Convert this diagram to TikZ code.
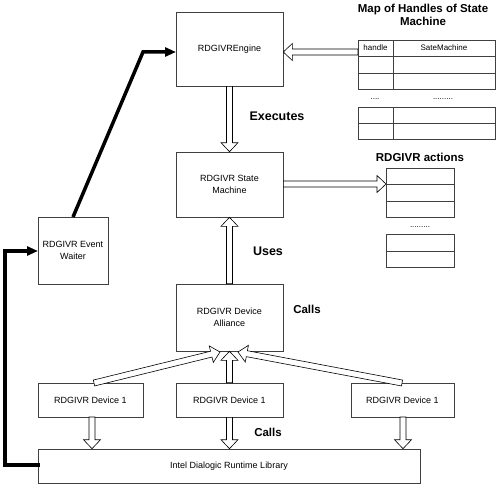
\documentclass[tikz,border=0pt]{standalone}
\usepackage{fontspec}
\setmainfont{Liberation Sans}
\usetikzlibrary{arrows.meta,calc}
\begin{document}
\begin{tikzpicture}[x=1pt,y=-1pt,
  box/.style={draw=black!75, line width=0.6pt, align=center, inner sep=0pt, font=\fontsize{9}{11.5}\selectfont},
  lbl/.style={font=\fontsize{11.5}{13}\selectfont\bfseries, inner sep=0pt},
  biglbl/.style={lbl, font=\fontsize{12.5}{14}\selectfont\bfseries},
  cell/.style={font=\fontsize{8}{10}\selectfont, inner sep=0pt},
  grid/.style={draw=black!75, line width=0.6pt},
  hollow/.style={draw=black, line width=0.6pt, fill=white, line join=miter,
    to path={let \p1=(\tikztostart), \p2=(\tikztotarget), \p3=($(\p2)!9pt!(\p1)$) in
      ($(\p1)!3pt!90:(\p2)$) -- ($(\p3)!3pt!90:(\p2)$) -- ($(\p3)!8.5pt!90:(\p2)$) -- (\p2)
      -- ($(\p3)!8.5pt!-90:(\p2)$) -- ($(\p3)!3pt!-90:(\p2)$) -- ($(\p1)!3pt!-90:(\p2)$) -- cycle}},
  thick/.style={line width=3.5pt, -{Triangle[length=11pt, width=9pt]}},
]
\useasboundingbox (0,0) rectangle (500,487);
% boxes
\node[box, minimum width=107pt, minimum height=74pt] (eng) at (229.5,49) {RDGIVREngine};
\node[box, minimum width=107pt, minimum height=65pt] (sm) at (229.5,184.5) {RDGIVR State\\Machine};
\node[box, minimum width=70pt, minimum height=67pt] (ew) at (73,250.5) {RDGIVR Event\\Waiter};
\node[box, minimum width=107pt, minimum height=67pt] (da) at (229.5,317.5) {RDGIVR Device\\Alliance};
\node[box, minimum width=105pt, minimum height=34pt] (d1) at (90.5,400) {RDGIVR Device 1};
\node[box, minimum width=107pt, minimum height=34pt] (d2) at (229.5,400) {RDGIVR Device 1};
\node[box, minimum width=103pt, minimum height=34pt] (d3) at (402.5,400) {RDGIVR Device 1};
\node[box, minimum width=382pt, minimum height=34pt] (lib) at (229,466) {Intel Dialogic Runtime Library};
% map of handles
\node[lbl, align=center] (maptitle) at (423,15) {Map of Handles of State\\Machine};
\draw[grid] (358,40) rectangle (495,89);
\draw[grid] (358,56) -- (495,56) (358,73) -- (495,73) (393,40) -- (393,89);
\node[cell] (hd) at (375.5,48) {handle};
\node[cell] (smh) at (444,48) {SateMachine};
\node[cell] (dotsA) at (375,99) {....};
\node[cell] (dotsB) at (443,99) {.........};
\draw[grid] (358,107) rectangle (495,139);
\draw[grid] (358,123) -- (495,123) (393,107) -- (393,139);
\coordinate (mapin) at (358,52);
% actions
\node[lbl] (acttitle) at (420,157) {RDGIVR actions};
\draw[grid] (386,168) rectangle (454,217);
\draw[grid] (386,184) -- (454,184) (386,201) -- (454,201);
\node[cell] (dotsC) at (420,227) {.........};
\draw[grid] (386,234) rectangle (454,267);
\draw[grid] (386,251) -- (454,251);
\coordinate (actin) at (386,184);
% labels
\node[biglbl] (exec) at (277,116) {Executes};
\node[biglbl] (uses) at (268,251) {Uses};
\node[lbl] (calls1) at (307,309) {Calls};
\node[lbl] (calls2) at (268,432) {Calls};
% hollow arrows
\coordinate (d1top) at (94,383);
\coordinate (d3top) at (402,383);
\coordinate (datipL) at (220,352);
\coordinate (datipR) at (238,352);
\draw[hollow] (d1top) to (datipL);
\draw[hollow] (d3top) to (datipR);
\draw[hollow] (d2.north) to (da.south);
\draw[hollow] (mapin) to (eng.east |- mapin);
\draw[hollow] (eng.south) to (sm.north);
\draw[hollow] (sm.east |- actin) to (actin);
\draw[hollow] (da.north) to (sm.south);
\coordinate (d1bot) at (92,417);
\coordinate (d3bot) at (403,417);
\draw[hollow] (d1bot) to (d1bot |- lib.north);
\draw[hollow] (d2.south) to (lib.north -| d2.south);
\draw[hollow] (d3bot) to (d3bot |- lib.north);
% thick lines
\coordinate (ewtop) at (73,217);
\coordinate (bend1) at (143,52);
\coordinate (engin) at (176,52);
\draw[thick] (ewtop) -- (bend1) -- (engin);
\coordinate (libl) at (40,465);
\coordinate (ewl) at (38,251);
\draw[thick] (libl) -- (5,465) -- (5,251) -- (ewl);
\end{tikzpicture}
\end{document}
